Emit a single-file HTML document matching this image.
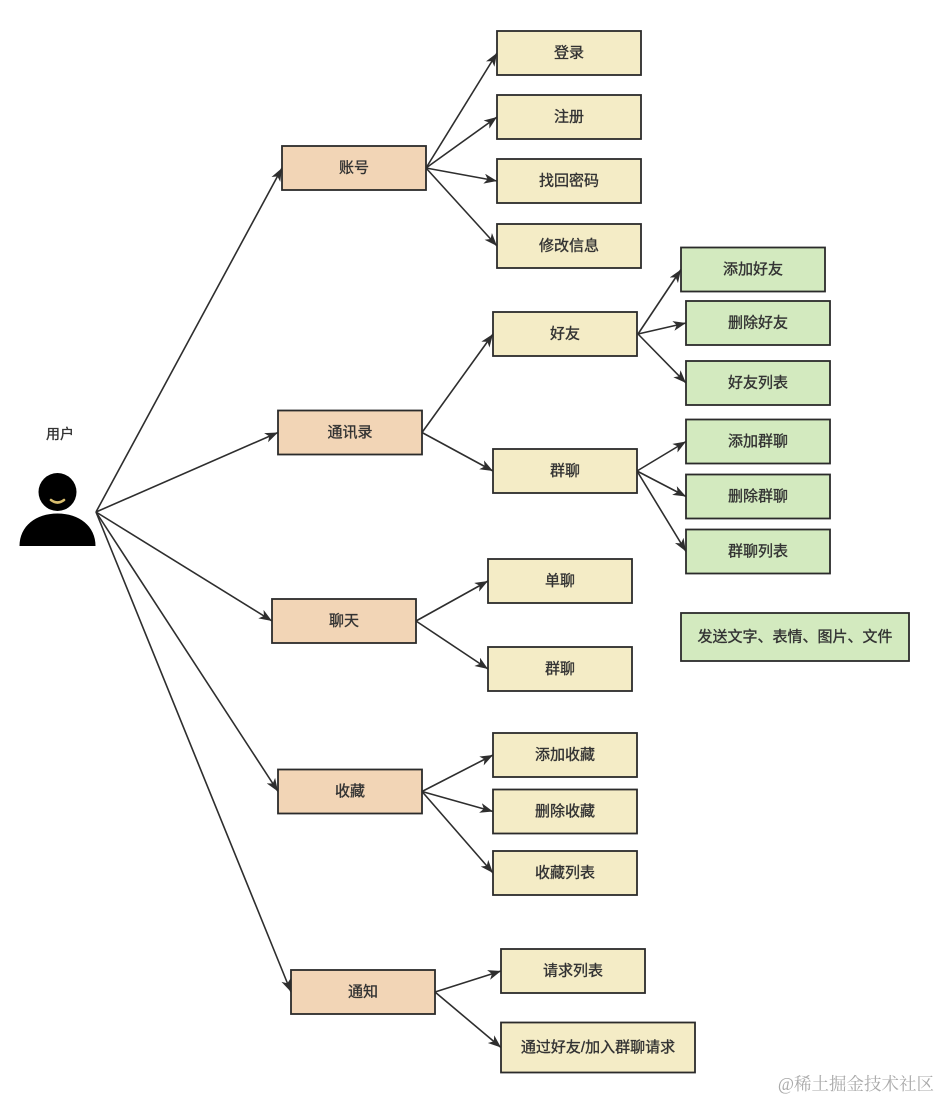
<!DOCTYPE html>
<html>
<head>
<meta charset="utf-8">
<style>
html,body{margin:0;padding:0;background:#fff;}
svg{display:block;}
text{font-family:"Liberation Sans","Noto Sans CJK SC",sans-serif;font-size:15px;fill:#333;}
.lb text{stroke:#333;stroke-width:0.35px;}
</style>
</head>
<body>
<svg width="944" height="1100" viewBox="0 0 944 1100" xmlns="http://www.w3.org/2000/svg">
<defs>
<marker id="a" markerUnits="userSpaceOnUse" markerWidth="14" markerHeight="11" refX="13" refY="5" orient="auto">
<path d="M0,0 L13,5 L0,10 L3.5,5 Z" fill="#2e2e2e"/>
</marker>
</defs>

<!-- person -->
<g class="lb"><text x="60" y="434" text-anchor="middle" dominant-baseline="central" style="font-size:14px">用户</text></g>
<circle cx="57.5" cy="492" r="19" fill="#000"/>
<path d="M51,500 Q57.5,505 64,500" stroke="#d8bd6e" stroke-width="2.6" fill="none" stroke-linecap="round"/>
<path d="M19.5,546 C19.5,526 36,513.5 57.5,513.5 C79,513.5 95.5,526 95.5,546 Z" fill="#000"/>

<!-- connectors -->
<g stroke="#2e2e2e" stroke-width="1.6" fill="none" marker-end="url(#a)">
<line x1="96" y1="512" x2="282" y2="168"/>
<line x1="96" y1="512" x2="278" y2="432.5"/>
<line x1="96" y1="512" x2="272" y2="621"/>
<line x1="96" y1="512" x2="278" y2="791.5"/>
<line x1="96" y1="512" x2="291" y2="992"/>

<line x1="426" y1="168" x2="497" y2="53"/>
<line x1="426" y1="168" x2="497" y2="117"/>
<line x1="426" y1="168" x2="497" y2="181"/>
<line x1="426" y1="168" x2="497" y2="246"/>

<line x1="422" y1="432.5" x2="493" y2="334"/>
<line x1="422" y1="432.5" x2="493" y2="471"/>

<line x1="638" y1="334" x2="681" y2="269.5"/>
<line x1="638" y1="334" x2="686" y2="323"/>
<line x1="638" y1="334" x2="686" y2="383"/>

<line x1="637" y1="471" x2="686" y2="441.5"/>
<line x1="637" y1="471" x2="686" y2="496.5"/>
<line x1="637" y1="471" x2="686" y2="551.5"/>

<line x1="416" y1="621" x2="488" y2="581"/>
<line x1="416" y1="621" x2="488" y2="669"/>

<line x1="422" y1="791.5" x2="493" y2="755"/>
<line x1="422" y1="791.5" x2="493" y2="811.5"/>
<line x1="422" y1="791.5" x2="493" y2="873"/>

<line x1="435" y1="992" x2="501" y2="971"/>
<line x1="435" y1="992" x2="501" y2="1047.5"/>
</g>

<!-- category boxes -->
<g stroke="#2b2b2b" stroke-width="1.8" fill="#f2d5b6">
<rect x="282" y="146" width="144" height="44"/>
<rect x="278" y="410.5" width="144" height="44"/>
<rect x="272" y="599" width="144" height="44"/>
<rect x="278" y="769.5" width="144" height="44"/>
<rect x="291" y="970" width="144" height="44"/>
</g>

<!-- yellow boxes -->
<g stroke="#2b2b2b" stroke-width="1.8" fill="#f4ecc6">
<rect x="497" y="31" width="144" height="44"/>
<rect x="497" y="95" width="144" height="44"/>
<rect x="497" y="159" width="144" height="44"/>
<rect x="497" y="224" width="144" height="44"/>
<rect x="493" y="312" width="144" height="44"/>
<rect x="493" y="449" width="144" height="44"/>
<rect x="488" y="559" width="144" height="44"/>
<rect x="488" y="647" width="144" height="44"/>
<rect x="493" y="733" width="144" height="44"/>
<rect x="493" y="789.5" width="144" height="44"/>
<rect x="493" y="851" width="144" height="44"/>
<rect x="501" y="949" width="144" height="44"/>
<rect x="501" y="1022.5" width="194" height="50"/>
</g>

<!-- green boxes -->
<g stroke="#2b2b2b" stroke-width="1.8" fill="#d3eabf">
<rect x="681" y="247.5" width="144" height="44"/>
<rect x="686" y="301" width="144" height="44"/>
<rect x="686" y="361" width="144" height="44"/>
<rect x="686" y="419.5" width="144" height="44"/>
<rect x="686" y="474.5" width="144" height="44"/>
<rect x="686" y="529.5" width="144" height="44"/>
<rect x="681" y="613" width="228" height="48"/>
</g>

<!-- labels -->
<g class="lb" text-anchor="middle" dominant-baseline="central">
<text x="354" y="168">账号</text>
<text x="350" y="432.5">通讯录</text>
<text x="344" y="621">聊天</text>
<text x="350" y="791.5">收藏</text>
<text x="363" y="992">通知</text>

<text x="569" y="53">登录</text>
<text x="569" y="117">注册</text>
<text x="569" y="181">找回密码</text>
<text x="569" y="246">修改信息</text>
<text x="565" y="334">好友</text>
<text x="565" y="471">群聊</text>
<text x="560" y="581">单聊</text>
<text x="560" y="669">群聊</text>
<text x="565" y="755">添加收藏</text>
<text x="565" y="811.5">删除收藏</text>
<text x="565" y="873">收藏列表</text>
<text x="573" y="971">请求列表</text>
<text x="598" y="1047.5">通过好友/加入群聊请求</text>

<text x="753" y="269.5">添加好友</text>
<text x="758" y="323">删除好友</text>
<text x="758" y="383">好友列表</text>
<text x="758" y="441.5">添加群聊</text>
<text x="758" y="496.5">删除群聊</text>
<text x="758" y="551.5">群聊列表</text>
<text x="795" y="637">发送文字、表情、图片、文件</text>
</g>

<text x="934" y="1084" text-anchor="end" dominant-baseline="central" style="font-family:'Liberation Serif','Noto Serif CJK SC',serif;font-size:17.5px;fill:#aaaaaa">@稀土掘金技术社区</text>
</svg>
</body>
</html>
